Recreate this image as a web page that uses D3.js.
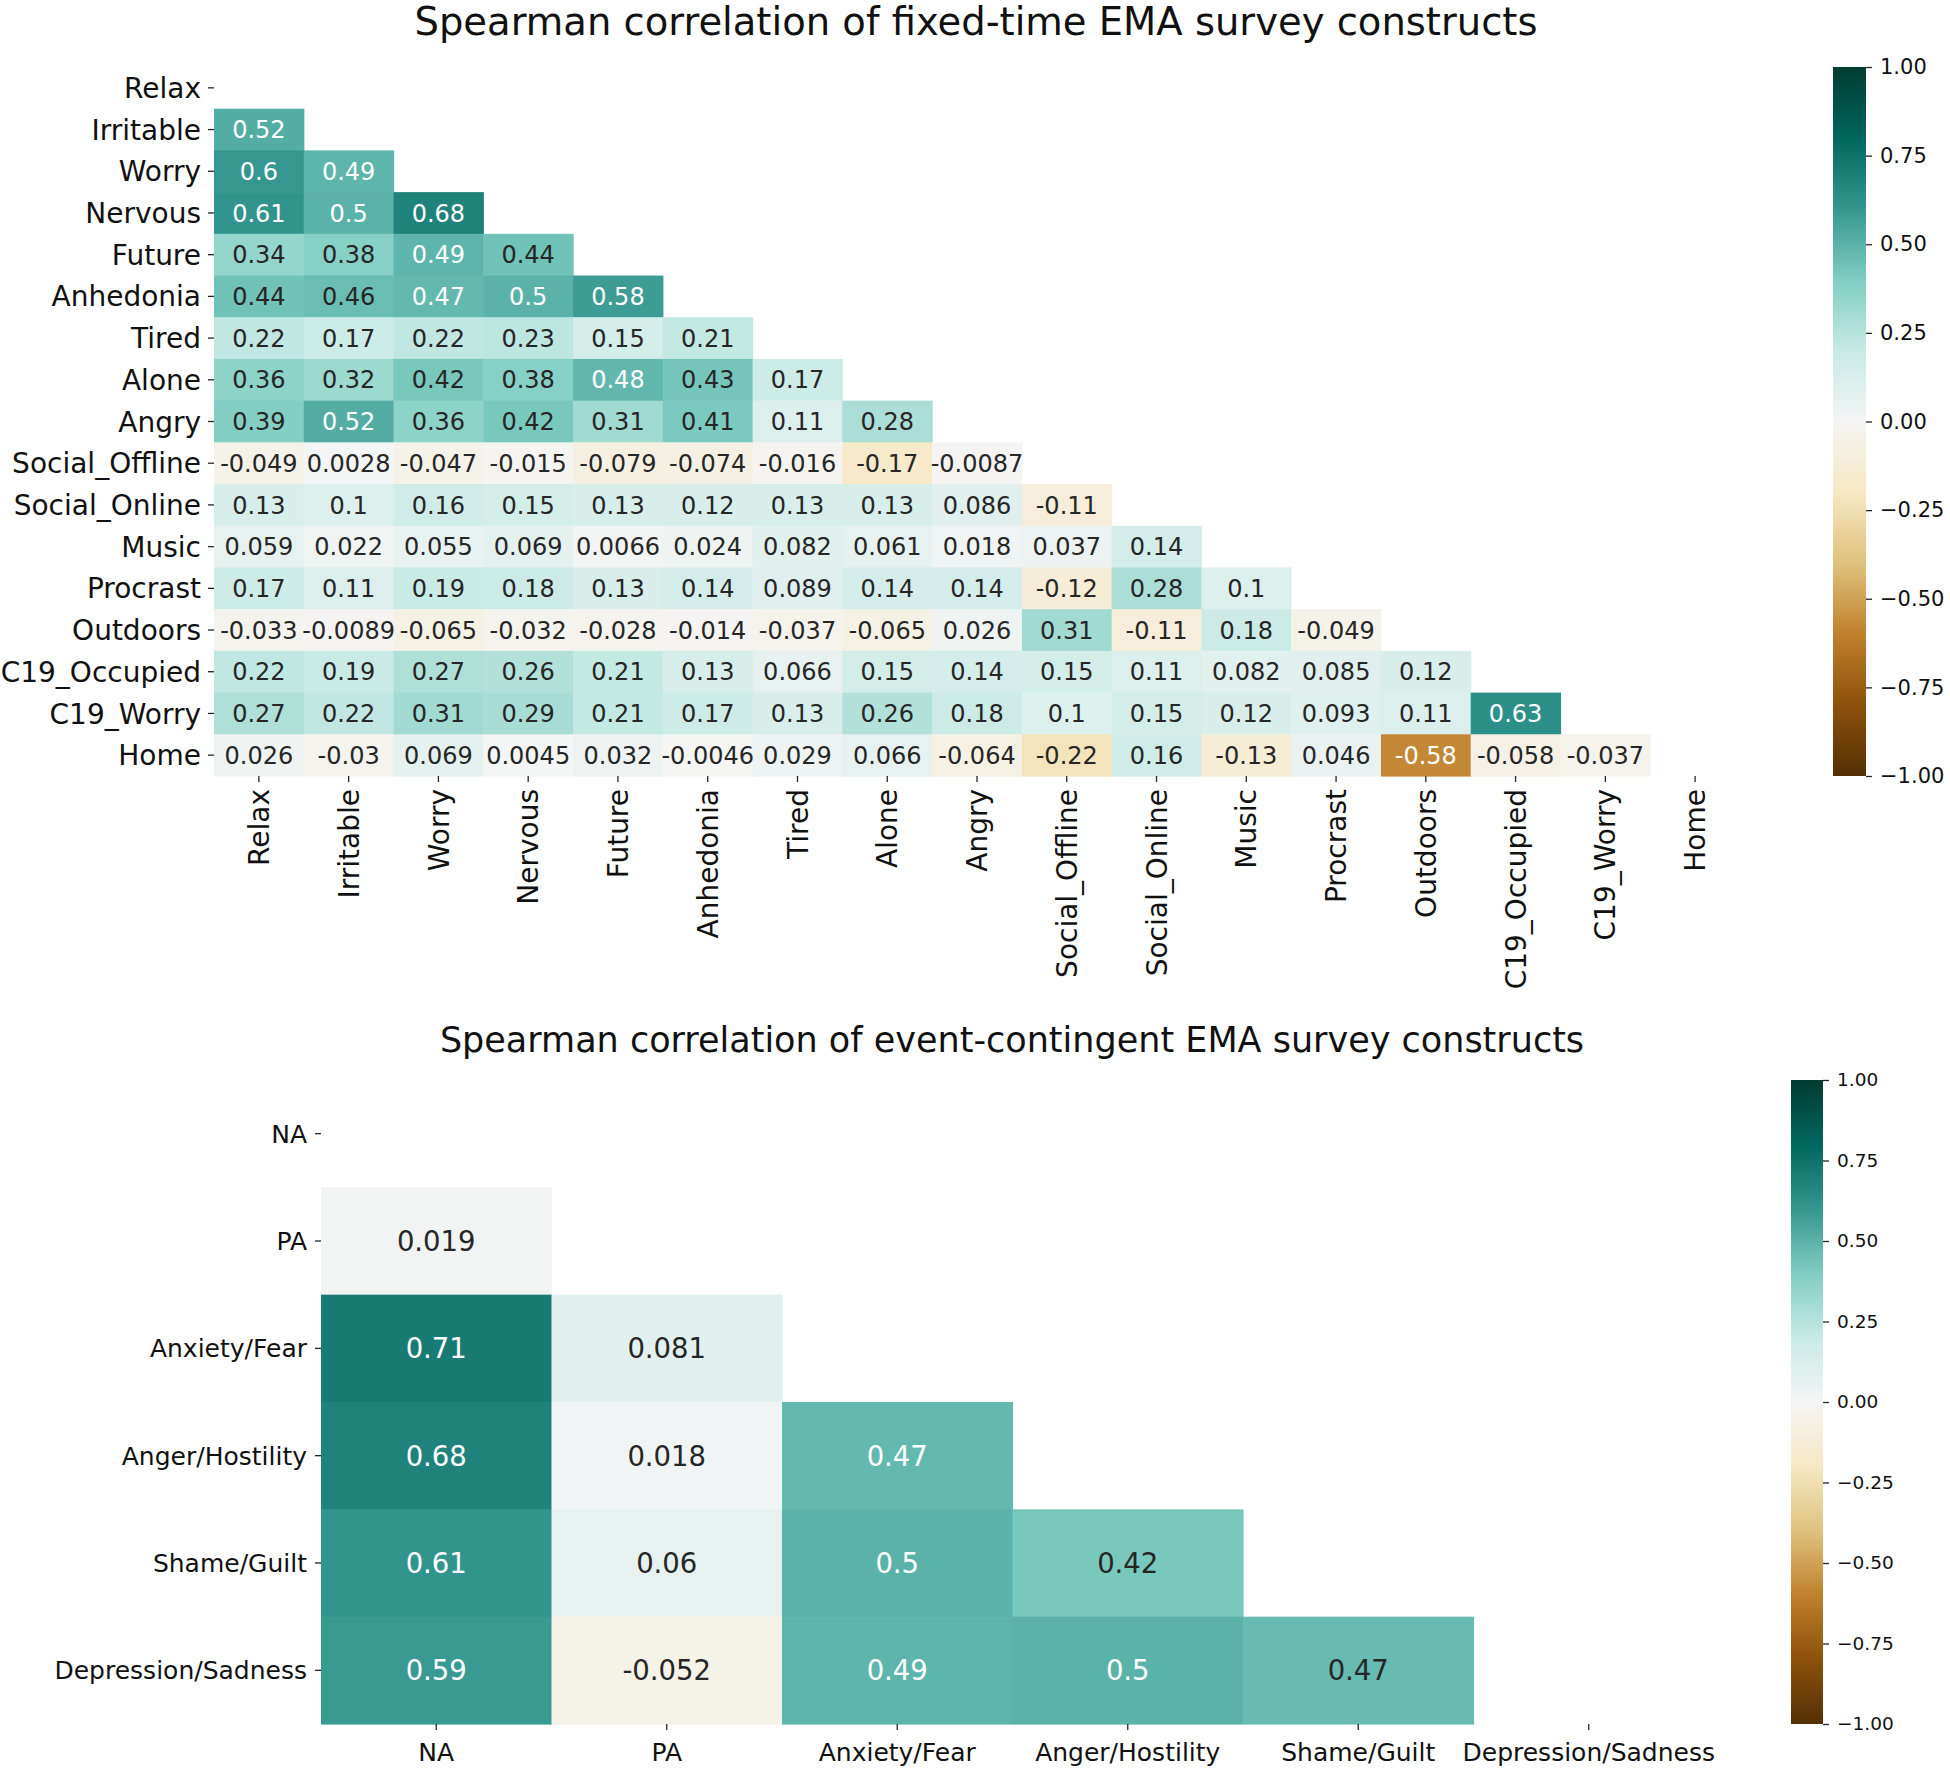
<!DOCTYPE html>
<html><head><meta charset="utf-8">
<script src="https://cdn.jsdelivr.net/npm/d3@7"></script>
<style>
body{margin:0;background:#fff;}
svg{display:block;font-family:"DejaVu Sans", sans-serif;}
</style></head><body>
<svg id="chart" width="1950" height="1770"></svg>
<script>
// ---------------- DATA ----------------
const fixedTitle = "Spearman correlation of fixed-time EMA survey constructs";
const fixedLabels = ["Relax","Irritable","Worry","Nervous","Future","Anhedonia","Tired","Alone","Angry",
  "Social_Offline","Social_Online","Music","Procrast","Outdoors","C19_Occupied","C19_Worry","Home"];
// lower triangle, row i has i values (columns 0..i-1)
const fixedValues = [
  [],
  [0.52],
  [0.6, 0.49],
  [0.61, 0.5, 0.68],
  [0.34, 0.38, 0.49, 0.44],
  [0.44, 0.46, 0.474, 0.5, 0.58],
  [0.22, 0.17, 0.22, 0.23, 0.15, 0.21],
  [0.36, 0.32, 0.42, 0.38, 0.48, 0.43, 0.17],
  [0.39, 0.52, 0.36, 0.42, 0.31, 0.41, 0.11, 0.28],
  [-0.049, 0.0028, -0.047, -0.015, -0.079, -0.074, -0.016, -0.17, -0.0087],
  [0.13, 0.1, 0.16, 0.15, 0.13, 0.12, 0.13, 0.13, 0.086, -0.11],
  [0.059, 0.022, 0.055, 0.069, 0.0066, 0.024, 0.082, 0.061, 0.018, 0.037, 0.14],
  [0.17, 0.11, 0.19, 0.18, 0.13, 0.14, 0.089, 0.14, 0.14, -0.12, 0.28, 0.1],
  [-0.033, -0.0089, -0.065, -0.032, -0.028, -0.014, -0.037, -0.065, 0.026, 0.31, -0.11, 0.18, -0.049],
  [0.22, 0.19, 0.27, 0.26, 0.21, 0.13, 0.066, 0.15, 0.14, 0.15, 0.11, 0.082, 0.085, 0.12],
  [0.27, 0.22, 0.31, 0.29, 0.21, 0.17, 0.13, 0.26, 0.18, 0.1, 0.15, 0.12, 0.093, 0.11, 0.63],
  [0.026, -0.03, 0.069, 0.0045, 0.032, -0.0046, 0.029, 0.066, -0.064, -0.22, 0.16, -0.13, 0.046, -0.58, -0.058, -0.037]
];

const eventTitle = "Spearman correlation of event-contingent EMA survey constructs";
const eventLabels = ["NA","PA","Anxiety/Fear","Anger/Hostility","Shame/Guilt","Depression/Sadness"];
const eventValues = [
  [],
  [0.019],
  [0.71, 0.081],
  [0.68, 0.018, 0.474],
  [0.61, 0.06, 0.5, 0.42],
  [0.59, -0.052, 0.49, 0.5, 0.466]
];

const colorbarTicks = [1, 0.75, 0.5, 0.25, 0, -0.25, -0.5, -0.75, -1];
// matplotlib BrBG anchor colours
const brbgColors = ["#543005","#8c510a","#bf812d","#dfc27d","#f6e8c3","#f5f5f5",
  "#c7eae5","#80cdc1","#35978f","#01665e","#003c30"];

// ---------------- DRAW ----------------
const svg = d3.select("#chart");
const color = d3.scaleLinear()
  .domain(brbgColors.map((c, i) => -1 + i * 0.2))
  .range(brbgColors)
  .interpolate(d3.interpolateRgb)
  .clamp(true);

const annotLocale = d3.formatLocale({decimal: ".", thousands: ",", grouping: [3], currency: ["", ""], minus: "-"});
const annotFmt = annotLocale.format(".2~g");
const cbFmt = d3.format(".2f");

function relLum(c) {
  const rgb = d3.rgb(c);
  const f = v => { v /= 255; return v <= 0.03928 ? v / 12.92 : Math.pow((v + 0.055) / 1.055, 2.4); };
  return 0.2126 * f(rgb.r) + 0.7152 * f(rgb.g) + 0.0722 * f(rgb.b);
}

let gradId = 0;
function heatmap(cfg) {
  const g = svg.append("g");
  const x = d3.scaleBand().domain(cfg.labels).range([cfg.x0, cfg.x1]);
  const y = d3.scaleBand().domain(cfg.labels).range([cfg.y0, cfg.y1]);
  const cells = [];
  cfg.values.forEach((row, i) => row.forEach((v, j) => cells.push({r: cfg.labels[i], c: cfg.labels[j], v})));

  g.append("g").selectAll("rect").data(cells).join("rect")
    .attr("x", d => x(d.c)).attr("y", d => y(d.r))
    .attr("width", x.bandwidth() + 0.6).attr("height", y.bandwidth() + 0.6)
    .attr("fill", d => color(d.v));

  g.append("g").selectAll("text").data(cells).join("text")
    .attr("x", d => x(d.c) + x.bandwidth() / 2)
    .attr("y", d => y(d.r) + y.bandwidth() / 2)
    .attr("dy", "0.36em").attr("text-anchor", "middle")
    .attr("font-size", cfg.annotSize)
    .attr("fill", d => relLum(color(d.v)) < 0.408 ? "#ffffff" : "#262626")
    .text(d => annotFmt(d.v));

  // y axis
  const ya = g.append("g").attr("transform", `translate(${cfg.x0},0)`)
    .call(d3.axisLeft(y).tickSize(cfg.tickLen).tickPadding(cfg.tickPad));
  ya.attr("font-size", null).attr("font-family", null);
  ya.select(".domain").remove();
  ya.selectAll("line").attr("stroke", "#262626").attr("stroke-width", 1.3);
  ya.selectAll("text").attr("font-size", cfg.tickSize).attr("fill", "#111").attr("dy", "0.36em");

  // x axis
  const xa = g.append("g").attr("transform", `translate(0,${cfg.y1})`)
    .call(d3.axisBottom(x).tickSize(cfg.tickLen).tickPadding(cfg.tickPad));
  xa.attr("font-size", null).attr("font-family", null);
  xa.select(".domain").remove();
  xa.selectAll("line").attr("stroke", "#262626").attr("stroke-width", 1.3);
  const xt = xa.selectAll("text").attr("font-size", cfg.tickSize).attr("fill", "#111");
  if (cfg.rotate) {
    xt.attr("transform", "rotate(-90)").attr("text-anchor", "end")
      .attr("x", -(cfg.tickLen + cfg.tickPad)).attr("y", 0).attr("dy", "0.36em");
  } else {
    xt.attr("y", cfg.tickLen + cfg.tickPad).attr("dy", "0.9em");
  }

  // title
  svg.append("text").attr("x", cfg.titleX).attr("y", cfg.titleY)
    .attr("text-anchor", "middle").attr("font-size", cfg.titleSize).attr("fill", "#111")
    .text(cfg.title);

  // colorbar
  const id = "grad" + (gradId++);
  const grad = svg.append("defs").append("linearGradient").attr("id", id)
    .attr("x1", 0).attr("y1", 1).attr("x2", 0).attr("y2", 0);
  brbgColors.forEach((c, i) => grad.append("stop").attr("offset", i / (brbgColors.length - 1)).attr("stop-color", c));
  svg.append("rect").attr("x", cfg.cbX).attr("y", cfg.y0).attr("width", cfg.cbW).attr("height", cfg.y1 - cfg.y0)
    .attr("fill", `url(#${id})`);
  const cy = d3.scaleLinear().domain([-1, 1]).range([cfg.y1, cfg.y0]);
  const ca = svg.append("g").attr("transform", `translate(${cfg.cbX + cfg.cbW},0)`)
    .call(d3.axisRight(cy).tickValues(colorbarTicks).tickFormat(cbFmt).tickSize(cfg.tickLen).tickPadding(cfg.cbPad));
  ca.attr("font-size", null).attr("font-family", null);
  ca.select(".domain").remove();
  ca.selectAll("line").attr("stroke", "#262626").attr("stroke-width", 1.3);
  ca.selectAll("text").attr("font-size", cfg.cbSize).attr("fill", "#111");
}

heatmap({
  labels: fixedLabels, values: fixedValues, title: fixedTitle,
  x0: 214, x1: 1740, y0: 67, y1: 776,
  annotSize: 24, tickSize: 28, tickLen: 6, tickPad: 7, rotate: true,
  titleX: 976, titleY: 35, titleSize: 38.5,
  cbX: 1833, cbW: 33, cbPad: 8, cbSize: 21
});

heatmap({
  labels: eventLabels, values: eventValues, title: eventTitle,
  x0: 321, x1: 1704, y0: 1080, y1: 1724,
  annotSize: 27.5, tickSize: 25, tickLen: 6, tickPad: 8, rotate: false,
  titleX: 1012, titleY: 1052, titleSize: 35,
  cbX: 1791, cbW: 32, cbPad: 8, cbSize: 18.5
});
</script>
</body></html>
